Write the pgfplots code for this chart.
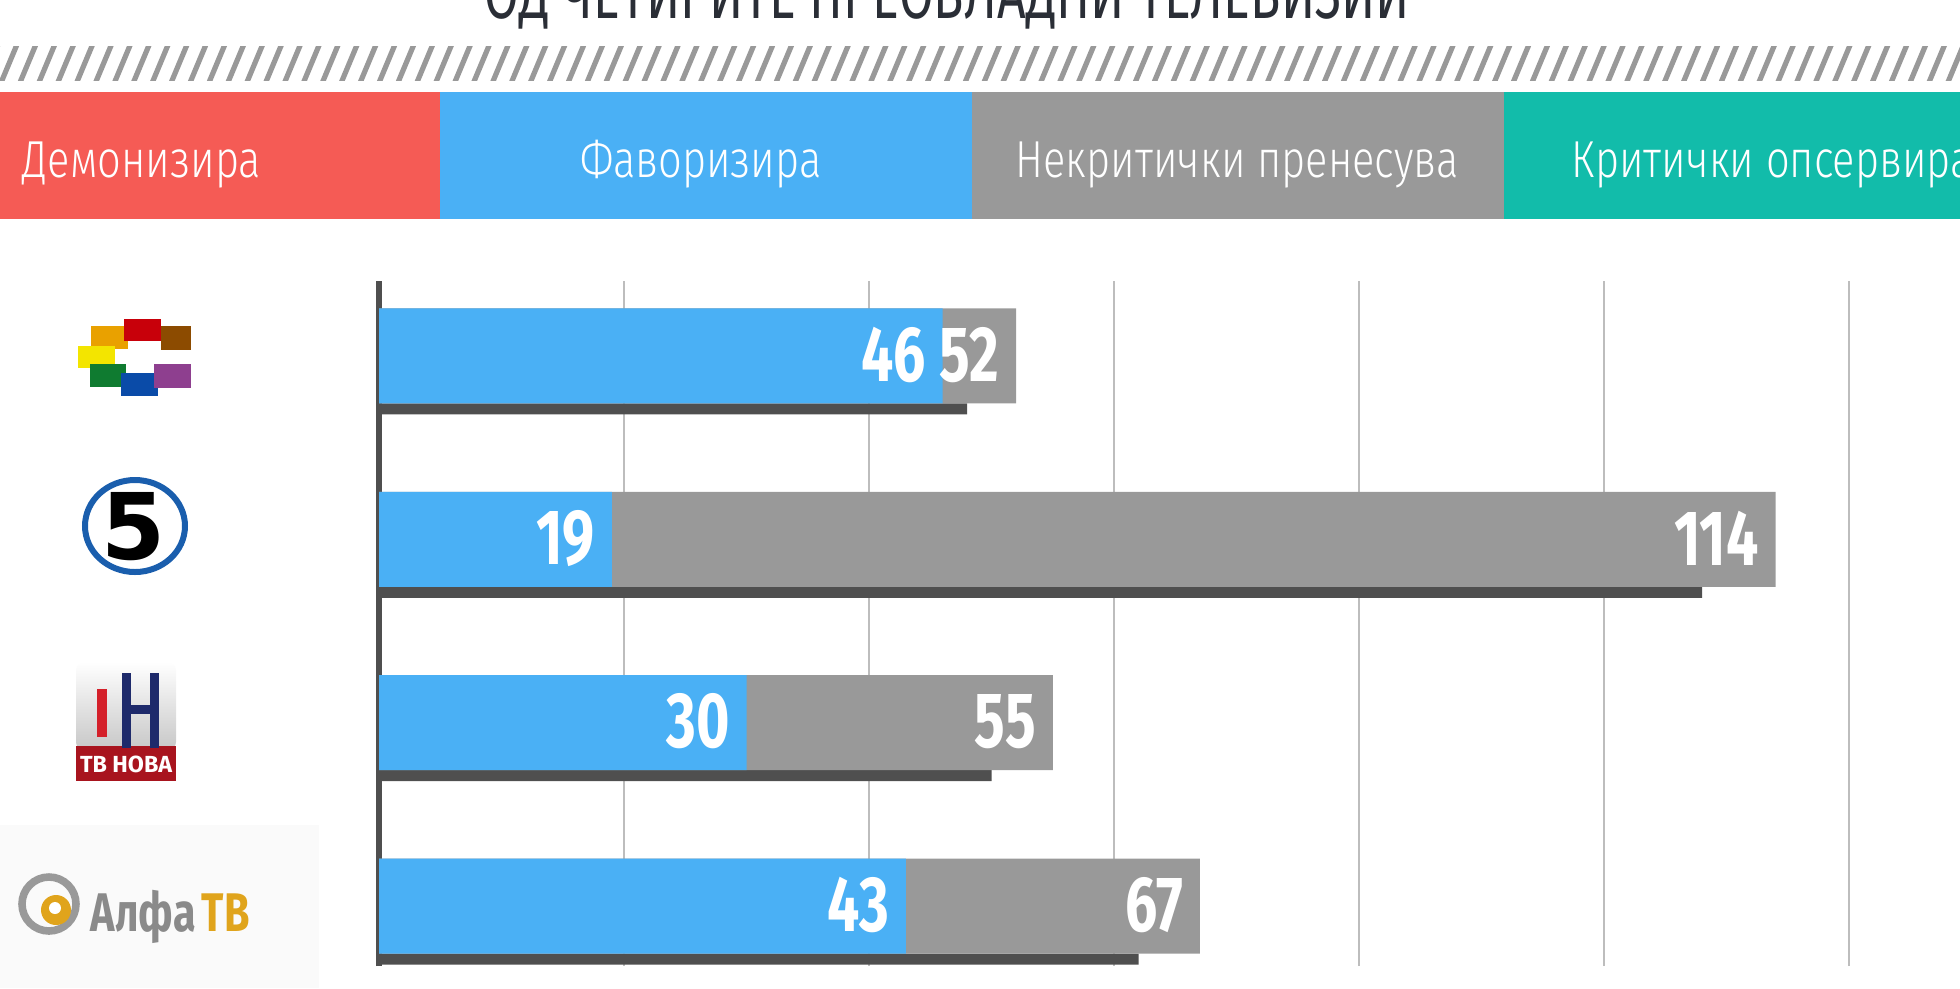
\documentclass[border=0pt]{standalone}
\usepackage{fontspec}
\setmainfont{Fira Sans}
\usepackage{graphicx}
\usepackage{pgfplots}
\pgfplotsset{compat=1.18}
\usepackage{pgfplotstable}
\newfontfamily\numfont[FakeStretch=0.73]{Fira Sans}
\newfontfamily\logotxt[FakeStretch=0.76]{Fira Sans}
\newfontfamily\legfont[FakeStretch=0.8]{Fira Sans Light}
\newfontfamily\titlefont[FakeStretch=0.6]{Fira Sans}
\newfontfamily\logofont{DejaVu Sans}
\definecolor{cred}{HTML}{F55B55}
\definecolor{cblue}{HTML}{4AB0F5}
\definecolor{cgray}{HTML}{999999}
\definecolor{cteal}{HTML}{12BCAA}
\definecolor{darkbar}{HTML}{4F4F4F}
\definecolor{gridgray}{HTML}{BDBDBD}
\definecolor{titlecol}{HTML}{2A2E36}
\definecolor{hatch}{HTML}{999999}
\definecolor{lgorange}{HTML}{E9A100}
\definecolor{lgred}{HTML}{C8000A}
\definecolor{lgbrown}{HTML}{8C4B00}
\definecolor{lgyellow}{HTML}{F3E500}
\definecolor{lggreen}{HTML}{0F7B30}
\definecolor{lgblue}{HTML}{0A4BA8}
\definecolor{lgpurple}{HTML}{8E3F8F}
\definecolor{ringblue}{HTML}{1A5EAD}
\definecolor{novared}{HTML}{A8141E}
\definecolor{novared2}{HTML}{D4202A}
\definecolor{novanavy}{HTML}{1E2A6B}
\definecolor{alfagray}{HTML}{8A8A8A}
\definecolor{alfagold}{HTML}{E0A41C}

\pgfplotstableread{
row blue total dark
3 46 52 48
2 19 114 108
1 30 55 50
0 43 67 62
}\data

\begin{document}
\begin{tikzpicture}
\useasboundingbox (0pt,0pt) rectangle (490pt,-247pt);
\clip (0pt,0pt) rectangle (490pt,-247pt);

% decorations in pixel units
\begin{scope}[x=0.25pt,y=-0.25pt]
  % title (cut at top)
  \node[anchor=base, inner sep=0pt, text=titlecol] at (947.5,18)
    {\resizebox{231.25pt}{12.5pt}{\titlefont ОД ЧЕТИРИТЕ ПРЕОВЛАДНИ ТЕЛЕВИЗИИ}};
  % hatch band
  \begin{scope}
    \clip (0,46) rectangle (1960,80);
    \foreach \i in {-1,...,105} {
      \draw[hatch, line width=1.3pt] (\i*18.9+3.3-2,82) -- ++(15.9,-38);
    }
  \end{scope}
  % legend band
  \fill[cred] (0,92) rectangle (440,219);
  \fill[cblue] (440,92) rectangle (972,219);
  \fill[cgray] (972,92) rectangle (1504,219);
  \fill[cteal] (1504,92) rectangle (1960,219);
  \begin{scope}[every node/.style={inner sep=0pt, text=white, font=\legfont\fontsize{13pt}{14pt}\selectfont}]
    \node[anchor=base west] at (22,177) {Демонизира};
    \node[anchor=base] at (701,177) {Фаворизира};
    \node[anchor=base] at (1237,177) {Некритички пренесува};
    \node[anchor=base west] at (1571,177) {Критички опсервира};
  \end{scope}
  % logo 1
  \fill[lgorange] (91,326) rectangle (128,349);
  \fill[lgred] (124,319) rectangle (161,341);
  \fill[lgbrown] (161,326) rectangle (191,350);
  \fill[lgyellow] (78,346) rectangle (115,368);
  \fill[lggreen] (90,364) rectangle (126,387);
  \fill[lgblue] (121,373) rectangle (158,396);
  \fill[lgpurple] (154,364) rectangle (191,388);
  % logo 2
  \draw[ringblue, line width=1.5pt] (135,526) ellipse [x radius=50, y radius=46];
  \node[inner sep=0pt] at (134,527) {\logofont\bfseries\fontsize{23pt}{23pt}\selectfont 5};
  % logo 3
  \shade[top color=white, bottom color=black!22, rounded corners=2pt] (76,662) rectangle (176,750);
  \fill[novared] (76,746) rectangle (176,781);
  \node[inner sep=0pt, text=white] at (126,764) {\resizebox{23pt}{!}{\bfseries ТВ НОВА}};
  \fill[novared2] (97,689) rectangle (107,737);
  \fill[novanavy] (122,673) rectangle (131,748);
  \fill[novanavy] (150,673) rectangle (159,748);
  \fill[novanavy] (131,705) rectangle (150,714);
  % logo 4
  \fill[black!2] (0,825) rectangle (319,988);
  \draw[black!40, line width=1.9pt] (49,904) circle (27);
  \fill[alfagold] (56,910) circle (15);
  \fill[white] (55,908) circle (6);
  \node[anchor=base west, inner sep=0pt, text=alfagray] at (90,931)
    {\logotxt\bfseries\fontsize{13.6pt}{15pt}\selectfont Алфа};
  \node[anchor=base west, inner sep=0pt, text=alfagold] at (201,931)
    {\logotxt\bfseries\fontsize{13.6pt}{15pt}\selectfont ТВ};
\end{scope}

\begin{axis}[
  at={(94.75pt,-241.5pt)}, anchor=south west,
  scale only axis, width=395.25pt, height=171.25pt,
  xmin=0, xmax=129.06, ymin=-0.327, ymax=3.409,
  axis lines*=left,
  x axis line style={draw=none},
  y axis line style={darkbar, line width=1.5pt},
  ytick=\empty,
  xtick={20,40,60,80,100,120}, xticklabels={},
  major tick length=0pt,
  xmajorgrids, grid style={gridgray, line width=0.5pt},
  clip=false,
  nodes near coords style={anchor=east, xshift=-4pt, yshift=0.3pt, inner sep=0pt, text=white,
    font=\numfont\bfseries\fontsize{19.6pt}{20pt}\selectfont},
]
\addplot[xbar, bar width=2.75pt, bar shift=-13.25pt, fill=darkbar, draw=none]
  table[x=dark, y=row] {\data};
\addplot[xbar, bar width=23.75pt, bar shift=0pt, fill=cgray, draw=none,
  point meta=explicit symbolic, nodes near coords] table[x=total, y=row, meta=total] {\data};
\addplot[xbar, bar width=23.75pt, bar shift=0pt, fill=cblue, draw=none,
  point meta=explicit symbolic, nodes near coords] table[x=blue, y=row, meta=blue] {\data};
\end{axis}
\end{tikzpicture}
\end{document}
